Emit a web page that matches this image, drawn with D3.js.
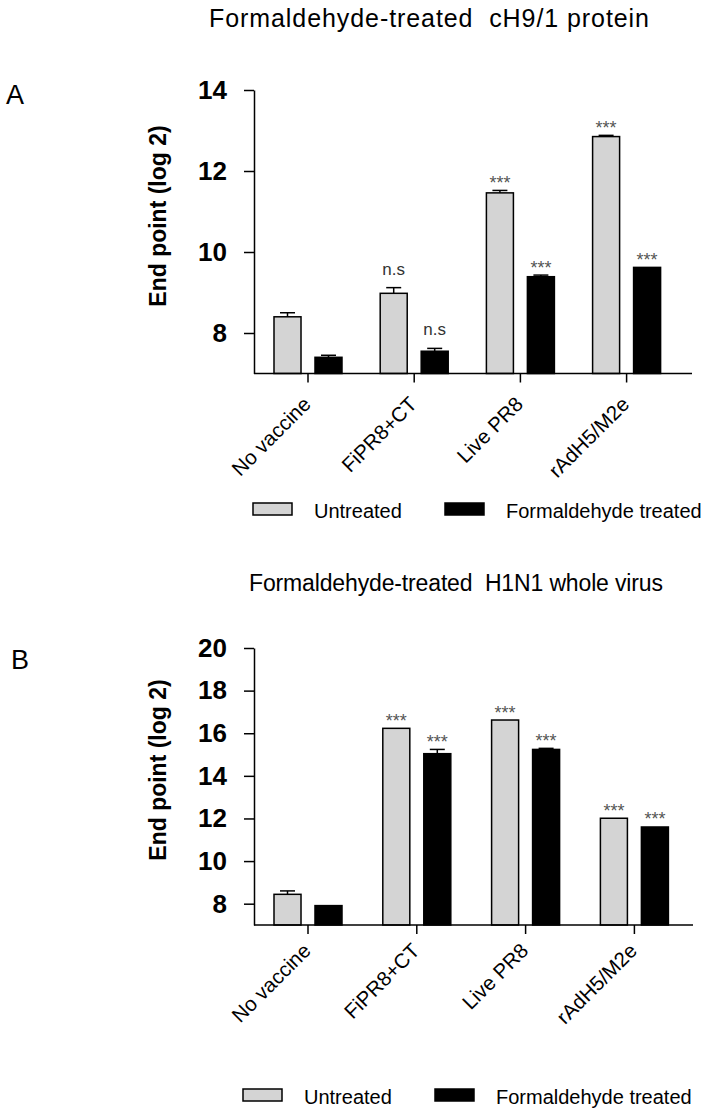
<!DOCTYPE html>
<html>
<head>
<meta charset="utf-8">
<script src="https://cdn.jsdelivr.net/npm/d3@7"></script>
<style>
  html, body { margin: 0; padding: 0; background: #fff; }
  svg { display: block; font-family: "Liberation Sans", Arial, sans-serif; }
  text { white-space: pre; }
</style>
</head>
<body>
<svg id="chart" width="716" height="1112"></svg>
<script>
// ---------------- DATA ----------------
const categories = ["No vaccine", "FiPR8+CT", "Live PR8", "rAdH5/M2e"];
const seriesNames = ["Untreated", "Formaldehyde treated"];

// Panel A: Formaldehyde-treated cH9/1 protein
const titleA = "Formaldehyde-treated  cH9/1 protein";
const aUntreated    = [8.40, 8.98, 11.46, 12.85];
const aUntreatedErr = [0.10, 0.14, 0.06, 0.03];
const aTreated      = [7.40, 7.55, 9.39, 9.62];
const aTreatedErr   = [0.05, 0.07, 0.04, 0.00];
const aSigUntreated = ["", "n.s", "***", "***"];
const aSigTreated   = ["", "n.s", "***", "***"];
const aTicks = [8, 10, 12, 14];

// Panel B: Formaldehyde-treated H1N1 whole virus
const titleB = "Formaldehyde-treated  H1N1 whole virus";
const bUntreated    = [8.44, 16.23, 16.62, 12.01];
const bUntreatedErr = [0.16, 0.00, 0.00, 0.00];
const bTreated      = [7.91, 15.04, 15.24, 11.60];
const bTreatedErr   = [0.00, 0.20, 0.05, 0.00];
const bSigUntreated = ["", "***", "***", "***"];
const bSigTreated   = ["", "***", "***", "***"];
const bTicks = [8, 10, 12, 14, 16, 18, 20];

// ---------------- DRAWING ----------------
const svg = d3.select("#chart");
const fills = ["#d4d4d4", "#000000"];

function drawPanel(p) {
  const g = svg.append("g");

  // title
  g.append("text").attr("x", p.titleX).attr("y", p.titleY)
    .attr("font-size", p.titleSize).attr("fill", "#000")
    .attr("textLength", p.titleLen).attr("lengthAdjust", "spacing")
    .text(p.title);
  // panel letter
  g.append("text").attr("x", p.letterX).attr("y", p.letterY)
    .attr("font-size", 27).attr("fill", "#000").text(p.letter);

  const y = d3.scaleLinear().domain(p.yDomain).range([p.yBottom, p.yTop]);
  const x0 = d3.scaleBand().domain(categories).range(p.xRange).padding(0);
  const groupW = 68;
  const x1 = d3.scaleBand().domain(seriesNames)
    .range([(x0.bandwidth() - groupW) / 2, (x0.bandwidth() + groupW) / 2])
    .paddingInner(0.341).paddingOuter(0);

  const rows = categories.map((c, i) => ({
    cat: c,
    vals: [
      { s: seriesNames[0], v: p.untreated[i], e: p.untreatedErr[i], sig: p.sigU[i] },
      { s: seriesNames[1], v: p.treated[i], e: p.treatedErr[i], sig: p.sigT[i] }
    ]
  }));

  const grp = g.selectAll("g.grp").data(rows).join("g")
    .attr("class", "grp")
    .attr("transform", d => `translate(${x0(d.cat)},0)`);

  // bars
  grp.selectAll("rect").data(d => d.vals).join("rect")
    .attr("x", d => x1(d.s))
    .attr("y", d => y(d.v))
    .attr("width", x1.bandwidth())
    .attr("height", d => y(p.yDomain[0]) - y(d.v))
    .attr("fill", (d, i) => fills[i])
    .attr("stroke", "#000").attr("stroke-width", 1.5);

  // error bars (upper only)
  const eb = grp.selectAll("g.err").data(d => d.vals.filter(v => v.e > 0)).join("g").attr("class", "err");
  eb.append("line")
    .attr("x1", d => x1(d.s) + x1.bandwidth() / 2).attr("x2", d => x1(d.s) + x1.bandwidth() / 2)
    .attr("y1", d => y(d.v)).attr("y2", d => y(d.v + d.e))
    .attr("stroke", "#000").attr("stroke-width", 1.5);
  eb.append("line")
    .attr("x1", d => x1(d.s) + x1.bandwidth() / 2 - 7.5).attr("x2", d => x1(d.s) + x1.bandwidth() / 2 + 7.5)
    .attr("y1", d => y(d.v + d.e)).attr("y2", d => y(d.v + d.e))
    .attr("stroke", "#000").attr("stroke-width", 1.5);

  // significance labels
  grp.selectAll("text.sig").data(d => d.vals.filter(v => v.sig)).join("text")
    .attr("class", "sig")
    .attr("x", d => x1(d.s) + x1.bandwidth() / 2)
    .attr("y", d => y(d.v + d.e) - (d.sig === "n.s" ? 13 : 1.5))
    .attr("text-anchor", "middle")
    .attr("font-size", d => d.sig === "n.s" ? 17 : 18)
    .attr("fill", d => d.sig === "n.s" ? "#333" : "#555")
    .text(d => d.sig);

  // y axis
  const yAxis = d3.axisLeft(y).tickValues(p.ticks).tickFormat(d3.format("d"))
    .tickSize(10).tickPadding(17).tickSizeOuter(0);
  const ya = g.append("g").attr("transform", `translate(${p.xAxisStart},0)`).call(yAxis);
  ya.select(".domain").attr("stroke", "#000").attr("stroke-width", 1.5);
  ya.selectAll(".tick line").attr("stroke", "#000").attr("stroke-width", 1.5);
  ya.selectAll(".tick text").attr("font-size", 26).attr("font-weight", "bold")
    .attr("fill", "#000").attr("font-family", "'Liberation Sans', Arial, sans-serif");

  // y axis title
  g.append("text")
    .attr("transform", `translate(${p.yTitleX},${p.yTitleY}) rotate(-90)`)
    .attr("text-anchor", "middle").attr("font-size", 23).attr("font-weight", "bold")
    .attr("fill", "#000").text("End point (log 2)");

  // x axis line
  g.append("line").attr("x1", p.xAxisStart).attr("x2", p.xAxisEnd)
    .attr("y1", y(p.yDomain[0])).attr("y2", y(p.yDomain[0]))
    .attr("stroke", "#000").attr("stroke-width", 1.5);
  // x ticks + labels
  const xt = g.selectAll("g.xt").data(categories).join("g").attr("class", "xt")
    .attr("transform", d => `translate(${x0(d) + x0.bandwidth() / 2},${y(p.yDomain[0])})`);
  xt.append("line").attr("y1", 0).attr("y2", 9).attr("stroke", "#000").attr("stroke-width", 1.5);
  xt.append("text")
    .attr("transform", `translate(${p.labDx},${p.labDy}) rotate(-45)`)
    .attr("text-anchor", "end").attr("font-size", 20.5).attr("fill", "#000")
    .text(d => d);

  // legend
  const lg = g.append("g");
  seriesNames.forEach((s, i) => {
    lg.append("rect").attr("x", p.legX[i]).attr("y", p.legY).attr("width", 39).attr("height", 12)
      .attr("fill", fills[i]).attr("stroke", "#000").attr("stroke-width", 1.5);
    lg.append("text").attr("x", p.legX[i] + 61).attr("y", p.legY + 15)
      .attr("font-size", 20).attr("fill", "#000").text(s);
  });
}

drawPanel({
  title: titleA, titleX: 209, titleY: 27, titleSize: 25, titleLen: 440,
  letter: "A", letterX: 6, letterY: 104,
  yDomain: [7, 14], yBottom: 373.5, yTop: 90, ticks: aTicks,
  xRange: [254.9, 679.7], xAxisStart: 254, xAxisEnd: 692,
  untreated: aUntreated, untreatedErr: aUntreatedErr, treated: aTreated, treatedErr: aTreatedErr,
  sigU: aSigUntreated, sigT: aSigTreated,
  yTitleX: 166, yTitleY: 216, labDx: 4, labDy: 32,
  legX: [253, 445], legY: 503
});

drawPanel({
  title: titleB, titleX: 249, titleY: 591, titleSize: 23, titleLen: 414,
  letter: "B", letterX: 11, letterY: 669,
  yDomain: [7, 20], yBottom: 925, yTop: 648, ticks: bTicks,
  xRange: [253.6, 688.8], xAxisStart: 254, xAxisEnd: 693,
  untreated: bUntreated, untreatedErr: bUntreatedErr, treated: bTreated, treatedErr: bTreatedErr,
  sigU: bSigUntreated, sigT: bSigTreated,
  yTitleX: 166, yTitleY: 770, labDx: 4, labDy: 27,
  legX: [243, 435], legY: 1089
});
</script>
</body>
</html>
